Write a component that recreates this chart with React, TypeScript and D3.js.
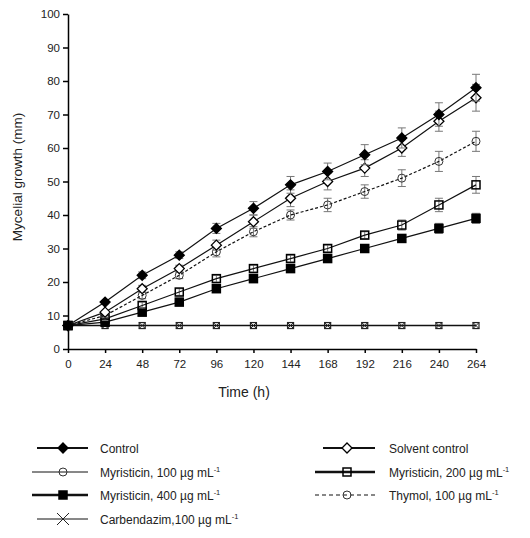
import { useEffect, useRef } from "react";
import * as d3 from "d3";

// time points (h)
const hours = [0, 24, 48, 72, 96, 120, 144, 168, 192, 216, 240, 264];

const control = [7, 14, 22, 28, 36, 42, 49, 53, 58, 63, 70, 78];
const controlErr = [0, 0.5, 1, 1, 1.5, 2, 2.5, 2.5, 3, 3, 3.5, 4];
const solvent = [7, 11, 18, 24, 31, 38, 45, 50, 54, 60, 68, 75];
const solventErr = [0, 0.5, 1, 1, 1.5, 2, 2.5, 2.5, 2.5, 2.5, 3, 4];
const thymol = [7, 10, 16, 22, 29, 35, 40, 43, 47, 51, 56, 62];
const thymolErr = [0, 0.5, 1, 1, 1.5, 1.5, 1.5, 2, 2, 2.5, 3, 3];
const myr200 = [7, 9, 13, 17, 21, 24, 27, 30, 34, 37, 43, 49];
const myr200Err = [0, 0.5, 1, 1, 1, 1, 1, 1, 1, 1.5, 2, 2.5];
const myr400 = [7, 8, 11, 14, 18, 21, 24, 27, 30, 33, 36, 39];
const myr400Err = [0, 0.5, 1, 1, 1, 1, 1, 1, 1, 1, 1.5, 1.5];
const carbendazim = [7, 7, 7, 7, 7, 7, 7, 7, 7, 7, 7, 7];

const yTicks = [0, 10, 20, 30, 40, 50, 60, 70, 80, 90, 100];

type Marker = "diamondFilled" | "diamondOpen" | "circle" | "squareOpen" | "squareFilled" | "cross";

const series: { values: number[]; errs: number[]; marker: Marker; dash?: string }[] = [
  { values: carbendazim, errs: carbendazim.map(() => 0), marker: "cross" },
  { values: myr400, errs: myr400Err, marker: "squareFilled" },
  { values: myr200, errs: myr200Err, marker: "squareOpen" },
  { values: thymol, errs: thymolErr, marker: "circle", dash: "3,2" },
  { values: solvent, errs: solventErr, marker: "diamondOpen" },
  { values: control, errs: controlErr, marker: "diamondFilled" },
];

const legendLeft = [
  { label: "Control", marker: "diamondFilled", width: 2, sup: false },
  { label: "Myristicin, 100 µg mL", marker: "circle", width: 1, sup: true },
  { label: "Myristicin, 400 µg mL", marker: "squareFilled", width: 2.6, sup: true },
  { label: "Carbendazim,100 µg mL", marker: "bigX", width: 1, sup: true },
];
const legendRight = [
  { label: "Solvent control", marker: "diamondOpen", width: 2, sup: false },
  { label: "Myristicin, 200 µg mL", marker: "squareOpen", width: 2.6, sup: true },
  { label: "Thymol, 100 µg mL", marker: "circle", width: 1.2, sup: true, dash: "4,3" },
];

function drawMarker(g: any, kind: string, x: number, y: number) {
  const font = "black";
  if (kind === "diamondFilled" || kind === "diamondOpen") {
    const s = 5;
    g.append("path")
      .attr("d", `M${x},${y - s}L${x + s},${y}L${x},${y + s}L${x - s},${y}Z`)
      .attr("fill", kind === "diamondFilled" ? font : "white")
      .attr("stroke", font)
      .attr("stroke-width", 1.3);
  } else if (kind === "circle") {
    g.append("circle")
      .attr("cx", x)
      .attr("cy", y)
      .attr("r", 4)
      .attr("fill", "none")
      .attr("stroke", "#333")
      .attr("stroke-width", 1);
  } else if (kind === "squareOpen" || kind === "squareFilled") {
    const s = 4;
    g.append("rect")
      .attr("x", x - s)
      .attr("y", y - s)
      .attr("width", 2 * s)
      .attr("height", 2 * s)
      .attr("fill", kind === "squareFilled" ? font : "none")
      .attr("stroke", font)
      .attr("stroke-width", 1.5);
  } else if (kind === "cross") {
    const s = 3;
    g.append("rect")
      .attr("x", x - s)
      .attr("y", y - s)
      .attr("width", 2 * s)
      .attr("height", 2 * s)
      .attr("fill", "none")
      .attr("stroke", "#222")
      .attr("stroke-width", 1.2);
    g.append("path")
      .attr("d", `M${x - s},${y - s}L${x + s},${y + s}M${x - s},${y + s}L${x + s},${y - s}`)
      .attr("stroke", "#222")
      .attr("stroke-width", 1);
  } else if (kind === "bigX") {
    const s = 6;
    g.append("path")
      .attr("d", `M${x - s},${y - s}L${x + s},${y + s}M${x - s},${y + s}L${x + s},${y - s}`)
      .attr("stroke", "#222")
      .attr("stroke-width", 1);
  }
}

export default function App() {
  const svgRef = useRef<SVGSVGElement>(null);

  useEffect(() => {
    if (!svgRef.current) return;
    const svg = d3.select(svgRef.current);
    svg.selectAll("*").remove();

    const x = d3.scaleLinear().domain([0, 264]).range([68, 476]);
    const y = d3.scaleLinear().domain([0, 100]).range([349, 14]);

    // axes
    const xAxis = svg
      .append("g")
      .attr("transform", `translate(0,${y(0)})`)
      .call(d3.axisBottom(x).tickValues(hours).tickSize(4).tickSizeOuter(0));
    xAxis.select(".domain").attr("stroke-width", 1.5);
    xAxis.selectAll(".tick line").attr("stroke-width", 1.5);
    xAxis
      .selectAll(".tick text")
      .attr("font-size", 11.5)
      .attr("font-family", "Liberation Sans, Arial, sans-serif")
      .attr("dy", "1.05em")
      .attr("fill", "#222");

    const yAxis = svg
      .append("g")
      .attr("transform", `translate(${x(0)},0)`)
      .call(d3.axisLeft(y).tickValues(yTicks).tickSize(5).tickSizeOuter(0));
    yAxis.select(".domain").attr("stroke-width", 1.5);
    yAxis.selectAll(".tick line").attr("stroke-width", 1.5);
    yAxis
      .selectAll(".tick text")
      .attr("font-size", 11.5)
      .attr("font-family", "Liberation Sans, Arial, sans-serif")
      .attr("x", -8)
      .attr("fill", "#222");

    svg
      .append("text")
      .attr("x", 244)
      .attr("y", 397)
      .attr("text-anchor", "middle")
      .attr("font-size", 14)
      .attr("font-family", "Liberation Sans, Arial, sans-serif")
      .attr("fill", "#222")
      .text("Time (h)");

    svg
      .append("text")
      .attr("transform", `translate(22,177) rotate(-90)`)
      .attr("text-anchor", "middle")
      .attr("font-size", 13.5)
      .attr("font-family", "Liberation Sans, Arial, sans-serif")
      .attr("fill", "#222")
      .text("Mycelial growth (mm)");

    const line = d3
      .line<number>()
      .x((_, i) => x(hours[i]))
      .y((d) => y(d));

    const plot = svg.append("g");

    series.forEach((s) => {
      // error bars
      const eb = plot.append("g").attr("stroke", "#777").attr("stroke-width", 1);
      s.values.forEach((v, i) => {
        const e = s.errs[i];
        if (e <= 0) return;
        const cx = x(hours[i]);
        eb.append("line").attr("x1", cx).attr("x2", cx).attr("y1", y(v - e)).attr("y2", y(v + e));
        eb.append("line").attr("x1", cx - 4).attr("x2", cx + 4).attr("y1", y(v - e)).attr("y2", y(v - e));
        eb.append("line").attr("x1", cx - 4).attr("x2", cx + 4).attr("y1", y(v + e)).attr("y2", y(v + e));
      });
      plot
        .append("path")
        .datum(s.values)
        .attr("d", line)
        .attr("fill", "none")
        .attr("stroke", "#111")
        .attr("stroke-width", s.marker === "cross" ? 1.5 : 1.2)
        .attr("stroke-dasharray", s.dash ?? null);
      const mg = plot.append("g");
      s.values.forEach((v, i) => drawMarker(mg, s.marker, x(hours[i]), y(v)));
    });

    // legend
    const legend = svg.append("g").attr("font-family", "Liberation Sans, Arial, sans-serif");
    const rows = [448, 472, 495, 519];
    const addEntry = (item: any, row: number, x0: number, x1: number, mx: number, tx: number) => {
      const g = legend.append("g");
      g.append("line")
        .attr("x1", x0)
        .attr("x2", x1)
        .attr("y1", row)
        .attr("y2", row)
        .attr("stroke", "#111")
        .attr("stroke-width", item.width)
        .attr("stroke-dasharray", item.dash ?? null);
      drawMarker(g, item.marker, mx, row);
      const t = g
        .append("text")
        .attr("x", tx)
        .attr("y", row + 4.5)
        .attr("font-size", 12)
        .attr("fill", "#222")
        .text(item.label);
      if (item.sup) {
        t.append("tspan").attr("dy", -5).attr("font-size", 7.5).text("-1");
      }
    };
    legendLeft.forEach((item, i) => {
      const x0 = item.marker === "circle" || item.marker === "squareFilled" ? 32 : 37;
      addEntry(item, rows[i], x0, 88, 63, 100);
    });
    legendRight.forEach((item, i) => {
      const x0 = item.marker === "diamondOpen" ? 323 : 315;
      addEntry(item, rows[i], x0, 375, 347, 389);
    });
  }, []);

  return (
    <div style={{ position: "fixed", left: 0, top: 0, background: "white" }}>
      <svg ref={svgRef} width={530} height={538} style={{ display: "block" }} />
    </div>
  );
}
